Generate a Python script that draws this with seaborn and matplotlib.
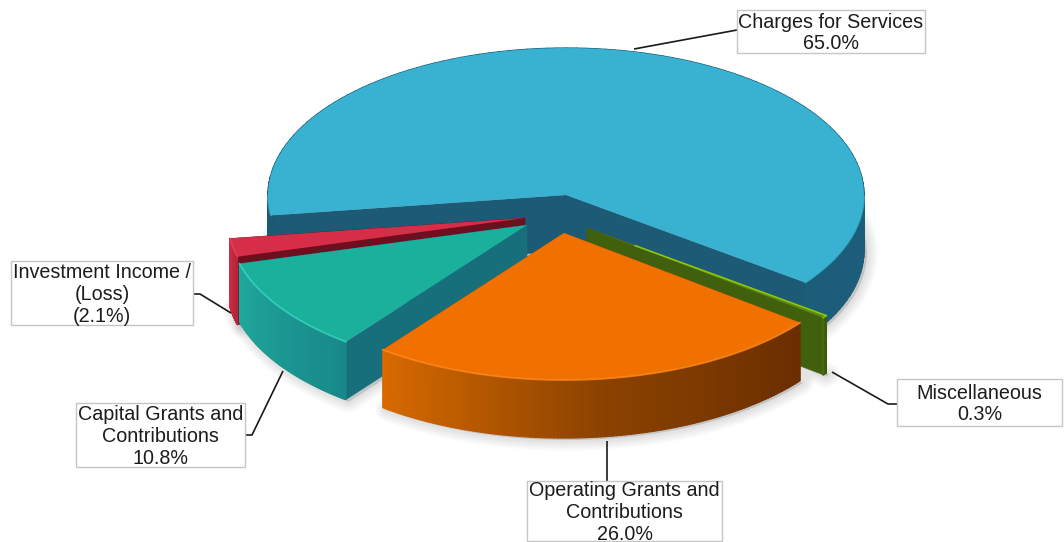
import numpy as np
import matplotlib
matplotlib.use("Agg")
import matplotlib.pyplot as plt
from matplotlib.collections import PolyCollection
from matplotlib.colors import LinearSegmentedColormap
from matplotlib.patches import Rectangle
import seaborn as sns

# Revenue sources, in drawing order around the pie
categories = ["Charges for Services", "Miscellaneous", "Operating Grants and\nContributions",
              "Capital Grants and\nContributions", "Investment Income /\n(Loss)"]
shares = [65.0, 0.3, 26.0, 10.8, -2.1]

top_colors = ["#39B1D0", "#5E8A12", "#F07000", "#1AB09C", "#D62E48"]
rim_colors = ["#39B1D0", "#8FCB08", "#FF8A1C", "#38D6BE", "#E8405C"]
cut_colors = ["#1C5A76", "#41600E", "#A04C00", "#176F7C", "#6E0F20"]
wall_ramps = [("#1C5E7A", "#1C5874"), ("#4C6F12", "#3C5A0C"),
              ("#D86A00", "#8C4200", "#6A2E00"), ("#1FA89C", "#18898A"),
              ("#D22F47", "#B52438")]

# Layout in pixels of the 1064x542 canvas
RX, RY = 298.0, 147.0
ORIGIN = (566.0, 195.0)
apexes = [(566, 195), (587, 228), (564, 233), (527, 225), (525, 218)]
depths = [56, 57, 58, 58, 68]
paint_order = [0, 1, 4, 3, 2]

label_boxes = [(737, 10, 188, 43), (897, 379, 165, 47), (527, 481, 195, 60),
               (76, 403, 169, 64), (11, 261, 182, 64)]
leaders = [[(737, 30), (634, 49)], [(832, 372), (888, 404), (897, 404)],
           [(607, 441), (607, 481)], [(245, 435), (252, 435), (283, 371)],
           [(193, 294), (200, 294), (231, 313)]]


def ux(px):
    return (np.asarray(px, float) - ORIGIN[0]) / RX


def uy(py):
    return (ORIGIN[1] - np.asarray(py, float)) / RY


sns.set_theme(style="white")
plt.rcParams["font.family"] = ["Liberation Sans", "DejaVu Sans"]

fig = plt.figure(figsize=(10.64, 5.42), dpi=100, facecolor="white")
ax = fig.add_axes([0, 0, 1, 1])

wedges, _ = ax.pie(np.abs(shares), colors=top_colors, startangle=188, counterclock=False,
                   wedgeprops={"linewidth": 0})
ax.set_aspect("auto")
ax.set_xlim(ux(0), ux(1064))
ax.set_ylim(uy(542), uy(0))
ax.set_axis_off()


def rim(apex, t1, t2, drop=0.0, n=90):
    t = np.radians(np.linspace(t1, t2, n))
    return ux(apex[0]) + np.cos(t), uy(apex[1] + drop) + np.sin(t)


z = 1
# Soft contact shadow under the whole solid, built from many faint strokes
for width in np.arange(16, 1, -1.5):
    for i in paint_order:
        w = wedges[i]
        xs, ys = rim(apexes[i], w.theta1, w.theta2, depths[i] + 2)
        xs = np.r_[ux(apexes[i][0]), xs] + 3 / RX
        ys = np.r_[uy(apexes[i][1] + depths[i] + 2), ys]
        ax.fill(xs, ys, facecolor=(0, 0, 0, 0.012), edgecolor=(0, 0, 0, 0.012),
                linewidth=width, joinstyle="round", zorder=z)

for i in paint_order:
    w = wedges[i]
    apex, d = apexes[i], depths[i]
    ax_, ay_ = ux(apex[0]), uy(apex[1])
    dy = d / RY
    z += 1

    # Flat faces along the two cuts
    for t in (w.theta1, w.theta2):
        rx_, ry_ = ax_ + np.cos(np.radians(t)), ay_ + np.sin(np.radians(t))
        ax.fill([ax_, rx_, rx_, ax_], [ay_, ry_, ry_ - dy, ay_ - dy],
                color=cut_colors[i], linewidth=0.3, zorder=z)

    # Curved outer wall, shaded across its arc
    cmap = LinearSegmentedColormap.from_list(f"wall{i}", wall_ramps[i])
    xs, ys = rim(apex, w.theta1, w.theta2, n=120)
    quads = [[(xs[k], ys[k]), (xs[k + 1], ys[k + 1]),
              (xs[k + 1], ys[k + 1] - dy), (xs[k], ys[k] - dy)] for k in range(len(xs) - 1)]
    ramp = cmap(np.linspace(0, 1, len(quads)))
    ax.add_collection(PolyCollection(quads, facecolors=ramp, edgecolors=ramp, linewidths=0.9, zorder=z))

    # Top face and lit front edge
    w.set_center((ax_, ay_))
    w.set_zorder(z + 0.5)
    front = np.radians(np.linspace(w.theta1, w.theta2, 200))
    arc_x = ax_ + np.cos(front)
    arc_y = np.where(np.sin(front) < 0, ay_ + np.sin(front), np.nan)
    ax.plot(arc_x, arc_y, color=rim_colors[i], lw=1.3, alpha=0.8, zorder=z + 0.6,
            solid_capstyle="round")

# The sliver of the smallest slice keeps a bright edge along the outer part of its cut
w = wedges[1]
t = np.radians(w.theta2)
reach = np.array([0.2, 1.0])
ax.plot(ux(apexes[1][0]) + reach * np.cos(t), uy(apexes[1][1]) + reach * np.sin(t),
        color=rim_colors[1], lw=1.1, zorder=wedges[1].get_zorder() + 0.2)

# Leader lines and boxed labels
for path in leaders:
    px = [p[0] for p in path]
    py = [p[1] for p in path]
    ax.plot(ux(px), uy(py), color="#1A1A1A", lw=1.2, zorder=50, solid_capstyle="butt")

for name, share, (bx, by, bw, bh) in zip(categories, shares, label_boxes):
    value = f"{abs(share):.1f}%"
    if share < 0:
        value = f"({value})"
    ax.add_patch(Rectangle((ux(bx), uy(by + bh)), bw / RX, bh / RY, facecolor="white",
                           edgecolor="#C6C6C6", linewidth=1.0, zorder=60, clip_on=False))
    n_lines = name.count("\n") + 2
    top = by + bh / 2 - (n_lines - 1) * 21.5 / 2 + 1.5
    for k, line in enumerate(name.split("\n") + [value]):
        ax.text(ux(bx + bw / 2), uy(top + k * 21.5), line, ha="center", va="center",
                fontsize=14.2, color="#1C1C1C", zorder=61, clip_on=False)

fig.savefig("out.png", dpi=100, facecolor="white")
